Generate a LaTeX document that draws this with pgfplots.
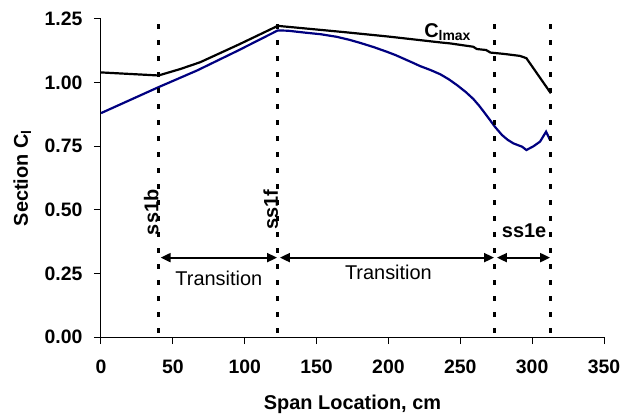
\documentclass[border=0pt]{standalone}
\usepackage{fontspec}
\setmainfont{Liberation Sans}
\usepackage{pgfplots}
\pgfplotsset{compat=1.18}
\usetikzlibrary{arrows.meta}
\definecolor{navyblue}{RGB}{0,0,128}

\begin{document}
\begin{tikzpicture}
\begin{axis}[
  scale only axis, width=503bp, height=318bp,
  xmin=0, xmax=350, ymin=0, ymax=1.25,
  axis x line*=bottom, axis y line*=left,
  axis line style={-, line width=1bp, black},
  xtick={0,50,100,150,200,250,300,350},
  ytick={0,0.25,0.5,0.75,1,1.25},
  minor tick num=0,
  tick align=outside, major tick length=7bp,
  tick style={line width=1bp, black},
  /pgf/number format/assume math mode=true,
  yticklabel style={/pgf/number format/fixed, /pgf/number format/fixed zerofill, /pgf/number format/precision=2, xshift=-8bp},
  xticklabel style={yshift=-12bp},
  ticklabel style={font=\fontsize{19.5}{22}\selectfont\bfseries},
  xlabel={Span Location, cm},
  ylabel={Section C\textsubscript{l}},
  label style={font=\fontsize{20}{24}\selectfont\bfseries},
  xlabel style={at={(axis description cs:0.5,0)}, anchor=base, yshift=-72bp},
  ylabel style={at={([xshift=-73bp]axis description cs:0,0.5)}, anchor=base, rotate=0},
  clip=false,
]
% Clmax
\addplot[black, line width=2.2bp] coordinates {
(0,1.040) (40,1.028) (55,1.053) (69,1.080) (96,1.150) (123,1.223)
(140,1.214) (170,1.198) (200,1.181) (236,1.158) (243,1.154) (259,1.141)
(261.5,1.132) (268,1.128) (271,1.118) (280,1.113) (291.5,1.105) (296,1.096) (313,0.958)
};
% Section Cl
\addplot[navyblue, line width=2.2bp] coordinates {
(0,0.880) (40,0.982) (67,1.048) (95,1.125) (123,1.205) (130,1.204) (141,1.197)
(153,1.190) (164,1.180) (173,1.168) (181,1.155) (190,1.139) (199,1.121) (205,1.108)
(211,1.093) (217,1.078) (222,1.065) (229,1.050) (236,1.033) (242,1.013)
(248,0.989) (254,0.962) (259,0.936) (263,0.910) (266,0.888) (270,0.858) (274,0.827)
(279,0.794) (283,0.775) (287,0.761) (293,0.748) (296,0.735) (301,0.750)
(305.5,0.768) (309.7,0.807) (312.5,0.774)
};
% vertical dashed lines
\addplot[black, line width=3bp, dash pattern=on 5bp off 11bp] coordinates {(40,1.23) (40,0)};
\addplot[black, line width=3bp, dash pattern=on 5bp off 11bp] coordinates {(123,1.23) (123,0)};
\addplot[black, line width=3bp, dash pattern=on 5bp off 11bp] coordinates {(274,1.23) (274,0)};
\addplot[black, line width=3bp, dash pattern=on 5bp off 11bp] coordinates {(313,1.23) (313,0)};
% arrows
\draw[{Triangle[length=10bp,width=9bp]}-{Triangle[length=10bp,width=9bp]}, line width=2bp]
  (axis cs:41.5,0.312) -- (axis cs:122.5,0.312);
\draw[{Triangle[length=10bp,width=9bp]}-{Triangle[length=10bp,width=9bp]}, line width=2bp]
  (axis cs:124.5,0.312) -- (axis cs:273.5,0.312);
\draw[{Triangle[length=10bp,width=9bp]}-{Triangle[length=10bp,width=9bp]}, line width=2bp]
  (axis cs:275.5,0.312) -- (axis cs:312.5,0.312);
% texts
\node[font=\fontsize{20}{24}\selectfont, inner sep=0pt] at (axis cs:82,0.231) {Transition};
\node[font=\fontsize{20}{24}\selectfont, inner sep=0pt] at (axis cs:200,0.254) {Transition};
\node[font=\fontsize{20}{24}\selectfont\bfseries, inner sep=0pt] at (axis cs:294.4,0.418) {ss1e};
\node[font=\fontsize{20}{24}\selectfont\bfseries, inner sep=0pt, rotate=90, anchor=base] at (axis cs:40,0.49) {ss1b};
\node[font=\fontsize{20}{24}\selectfont\bfseries, inner sep=0pt, rotate=90, anchor=base] at (axis cs:123,0.50) {ss1f};
\node[font=\fontsize{20}{24}\selectfont\bfseries, inner sep=0pt, anchor=base west] at (axis cs:224.8,1.178) {C\textsubscript{lmax}};
\end{axis}
\path ([shift={(-101bp,-80bp)}]current axis.south west) rectangle ([shift={(29bp,19bp)}]current axis.north east);
\end{tikzpicture}
\end{document}
